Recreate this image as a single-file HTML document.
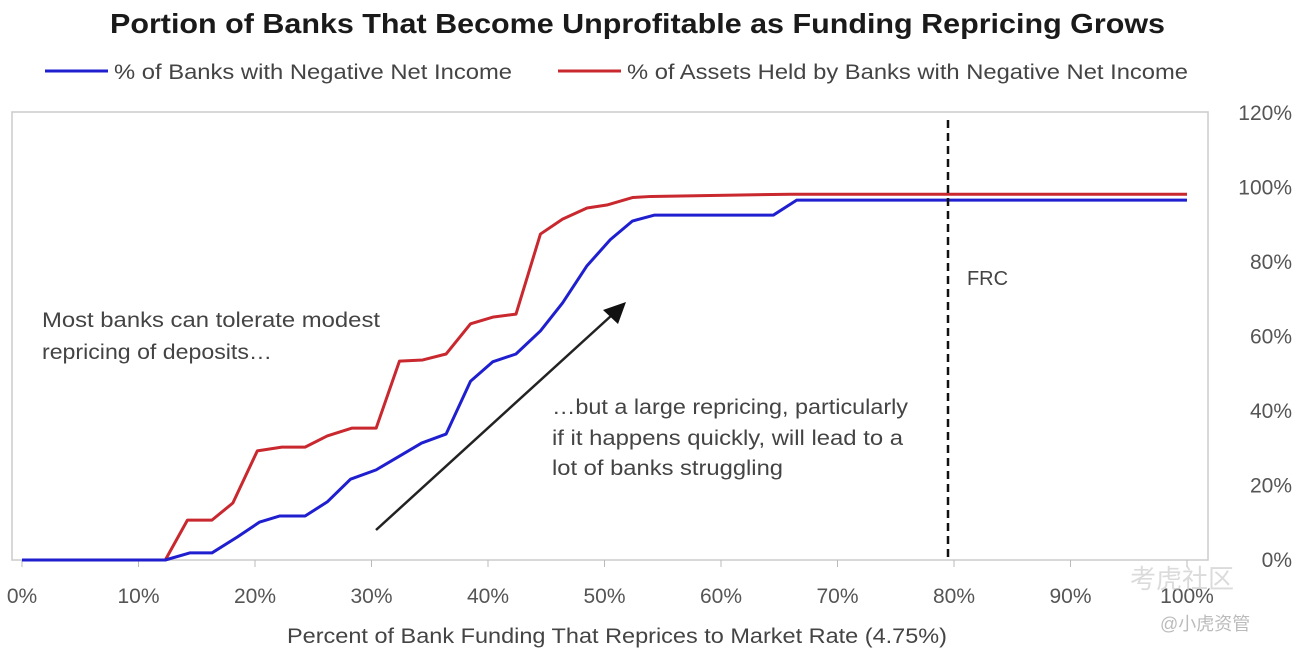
<!DOCTYPE html>
<html><head><meta charset="utf-8"><style>
body{margin:0;background:#fff;width:1295px;height:654px;overflow:hidden;font-family:"Liberation Sans","Noto Sans CJK SC",sans-serif;}
</style></head><body>
<svg id="chart" width="1295" height="654" xmlns="http://www.w3.org/2000/svg" font-family="Liberation Sans, Noto Sans CJK SC, sans-serif">
<text x="110" y="33" textLength="1055" lengthAdjust="spacingAndGlyphs" font-size="28" font-weight="bold" fill="#1a1a1a">Portion of Banks That Become Unprofitable as Funding Repricing Grows</text>
<g>
<line x1="45" y1="71" x2="108" y2="71" stroke="#1f1fd0" stroke-width="3"/>
<text x="114" y="79" textLength="398" lengthAdjust="spacingAndGlyphs" font-size="21" fill="#444">% of Banks with Negative Net Income</text>
<line x1="558" y1="71" x2="621" y2="71" stroke="#c8282e" stroke-width="3"/>
<text x="627" y="79" textLength="561" lengthAdjust="spacingAndGlyphs" font-size="21" fill="#444">% of Assets Held by Banks with Negative Net Income</text>
</g>
<rect x="12" y="112" width="1196" height="448" fill="none" stroke="#ccc" stroke-width="1.5"/>
<g id="axes"></g>
<g id="series"></g>
<line x1="948" y1="120" x2="948" y2="560" stroke="#111" stroke-width="2.5" stroke-dasharray="8,5"/>
<text x="967" y="285" textLength="41" lengthAdjust="spacingAndGlyphs" font-size="20" fill="#444">FRC</text>
<text font-size="21" fill="#444"><tspan x="42" y="327" textLength="338" lengthAdjust="spacingAndGlyphs">Most banks can tolerate modest</tspan><tspan x="42" y="359" textLength="230" lengthAdjust="spacingAndGlyphs">repricing of deposits…</tspan></text>
<text font-size="21" fill="#444"><tspan x="552" y="414" textLength="356" lengthAdjust="spacingAndGlyphs">…but a large repricing, particularly</tspan><tspan x="552" y="445" textLength="351" lengthAdjust="spacingAndGlyphs">if it happens quickly, will lead to a</tspan><tspan x="552" y="475" textLength="231" lengthAdjust="spacingAndGlyphs">lot of banks struggling</tspan></text>
<line x1="376" y1="530" x2="612" y2="315" stroke="#222" stroke-width="2.5"/>
<polygon points="626,302 618,324 603,310" fill="#111"/>
<text x="287" y="643" textLength="660" lengthAdjust="spacingAndGlyphs" font-size="21" fill="#444">Percent of Bank Funding That Reprices to Market Rate (4.75%)</text>
<text x="1130" y="588" font-size="26" fill="#ccc" opacity="0.7">考虎社区</text>
<text x="1160" y="630" font-size="18" fill="#bbb">@小虎资管</text>
</svg>
<script>
const xTicks=[0,10,20,30,40,50,60,70,80,90,100];
const yTicks=[0,20,40,60,80,100,120];
const bankX=[0,12.3,14.4,16.3,18.5,20.4,22.1,24.3,26.2,28.2,30.4,32.3,34.3,36.4,38.5,40.4,42.4,44.5,46.4,48.5,50.5,52.4,54.3,64.5,66.5,100];
const bankY=[0,0,1.9,1.9,6.2,10.2,11.8,11.8,15.6,21.7,24.2,27.7,31.4,33.8,48,53.2,55.3,61.5,69,79,86,91,92.6,92.6,96.6,96.6];
const assetX=[0,12.3,14.2,16.3,18.1,20.2,22.3,24.3,26.2,28.3,30.4,32.4,34.4,36.4,38.5,40.4,42.4,44.5,46.4,48.5,50.2,52.4,54,66,100];
const assetY=[0,0,10.7,10.7,15.3,29.3,30.3,30.3,33.3,35.4,35.4,53.4,53.7,55.3,63.4,65.2,66,87.5,91.5,94.5,95.3,97.3,97.6,98.2,98.2];
const NS='http://www.w3.org/2000/svg';
const xs=v=>22+11.65*v, ys=p=>560-3.725*p;
const axes=document.getElementById('axes'), series=document.getElementById('series');
xTicks.forEach(t=>{
  const tk=document.createElementNS(NS,'line');
  tk.setAttribute('x1',xs(t));tk.setAttribute('x2',xs(t));tk.setAttribute('y1',560);tk.setAttribute('y2',567);
  tk.setAttribute('stroke','#bbb');
  
  
  axes.appendChild(tk);
  const tx=document.createElementNS(NS,'text');
  tx.setAttribute('x',xs(t));tx.setAttribute('y',603);tx.setAttribute('text-anchor','middle');
  tx.setAttribute('font-size','21');tx.setAttribute('fill','#555');tx.textContent=t+'%';
  
  
  axes.appendChild(tx);
});
yTicks.forEach(t=>{
  const tx=document.createElementNS(NS,'text');
  tx.setAttribute('x',1292);tx.setAttribute('y',ys(t)+7);tx.setAttribute('text-anchor','end');
  tx.setAttribute('font-size','21');tx.setAttribute('fill','#555');tx.textContent=t+'%';
  
  
  axes.appendChild(tx);
});
function draw(X,Y,color,name){
  const p=document.createElementNS(NS,'polyline');
  p.setAttribute('points',X.map((x,i)=>xs(x)+','+ys(Y[i])).join(' '));
  p.setAttribute('fill','none');p.setAttribute('stroke',color);p.setAttribute('stroke-width','3');
  p.setAttribute('stroke-linejoin','round');
  
  
  series.appendChild(p);
}
draw(assetX,assetY,'#c8282e','assets-negative-income-line');
draw(bankX,bankY,'#1f1fd0','banks-negative-income-line');
</script>
</body></html>
